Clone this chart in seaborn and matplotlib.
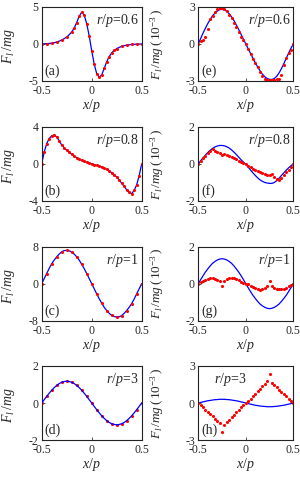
import matplotlib
matplotlib.use("Agg")
import matplotlib.pyplot as plt
import seaborn as sns
import numpy as np

# ---------------- data ----------------
X = [-0.5, -0.475, -0.45, -0.425, -0.4, -0.375, -0.35, -0.325, -0.3, -0.275,
     -0.25, -0.225, -0.2, -0.175, -0.15, -0.125, -0.1, -0.075, -0.05, -0.025,
     0.0, 0.025, 0.05, 0.075, 0.1, 0.125, 0.15, 0.175, 0.2, 0.225,
     0.25, 0.275, 0.3, 0.325, 0.35, 0.375, 0.4, 0.425, 0.45, 0.475, 0.5]

# (a) r/p = 0.6, normal force
A_LINE = [0, 0.02, 0.04, 0.07, 0.11, 0.17, 0.26, 0.38, 0.53, 0.72,
          0.95, 1.25, 1.62, 2.15, 2.9, 3.75, 4.3, 3.9, 2.75, 1.1,
          -0.9, -2.7, -4.0, -4.5, -4.2, -3.3, -2.4, -1.7, -1.2, -0.87,
          -0.63, -0.46, -0.33, -0.23, -0.16, -0.11, -0.07, -0.04, -0.02, -0.01, 0]
# (b) r/p = 0.8
B_LINE = [0, 1.3, 2.2, 2.75, 3.05, 3.12, 2.92, 2.5, 2.05, 1.75,
          1.5, 1.25, 1.04, 0.85, 0.68, 0.52, 0.39, 0.28, 0.18, 0.09,
          0, -0.07, -0.14, -0.22, -0.32, -0.44, -0.57, -0.74, -0.93, -1.16,
          -1.43, -1.74, -2.07, -2.43, -2.79, -3.08, -3.2, -2.85, -2.25, -1.25, 0]
# (c) r/p = 1
C_LINE = [0, 1.1, 2.2, 3.3, 4.3, 5.1, 5.8, 6.4, 6.9, 7.15,
          7.2, 7.1, 6.85, 6.4, 5.8, 5.1, 4.2, 3.25, 2.2, 1.1,
          0, -1.1, -2.2, -3.25, -4.2, -5.1, -5.8, -6.4, -6.85, -7.1,
          -7.2, -7.15, -6.9, -6.4, -5.8, -5.1, -4.3, -3.3, -2.2, -1.1, 0]
# (d) r/p = 3
D_LINE = [0, 0.18, 0.36, 0.53, 0.69, 0.83, 0.95, 1.05, 1.12, 1.16,
          1.18, 1.16, 1.12, 1.05, 0.95, 0.83, 0.69, 0.53, 0.36, 0.18,
          0, -0.18, -0.36, -0.53, -0.69, -0.83, -0.95, -1.05, -1.12, -1.16,
          -1.18, -1.16, -1.12, -1.05, -0.95, -0.83, -0.69, -0.53, -0.36, -0.18, 0]
# (e) r/p = 0.6, x 1e-3
E_LINE = [0, 0.45, 0.88, 1.28, 1.66, 1.99, 2.28, 2.5, 2.67, 2.78,
          2.8, 2.76, 2.64, 2.45, 2.2, 1.9, 1.55, 1.17, 0.78, 0.38,
          0, -0.38, -0.77, -1.15, -1.52, -1.87, -2.18, -2.45, -2.66, -2.8,
          -2.87, -2.88, -2.8, -2.62, -2.35, -2.0, -1.6, -1.17, -0.75, -0.35, 0]
E_DOTS = [0, 0.25, 0.35, 0.6, 1.2, 2.0, 2.3, 2.6, 2.8, 2.9,
          2.9, 2.85, 2.65, 2.35, 2.1, 1.7, 1.4, 1.0, 0.6, 0.3,
          0, -0.4, -0.8, -1.2, -1.55, -1.9, -2.25, -2.6, -2.8, -2.9,
          -2.92, -2.9, -2.9, -2.88, -2.8, -2.5, -1.7, -1.1, -0.7, -0.45, 0]
# (f) r/p = 0.8
F_LINE = [0, 0.17, 0.33, 0.48, 0.62, 0.74, 0.84, 0.92, 0.97, 1.0,
          1.0, 0.98, 0.93, 0.86, 0.76, 0.64, 0.51, 0.37, 0.23, 0.1,
          -0.02, -0.17, -0.33, -0.48, -0.62, -0.75, -0.86, -0.94, -1.0, -1.03,
          -1.05, -1.05, -1.0, -0.9, -0.77, -0.62, -0.48, -0.34, -0.21, -0.1, 0]
F_DOTS = [0, 0.15, 0.3, 0.45, 0.6, 0.72, 0.8, 0.72, 0.62, 0.6,
          0.5, 0.52, 0.5, 0.45, 0.4, 0.32, 0.25, 0.18, 0.1, 0.05,
          -0.02, -0.1, -0.18, -0.25, -0.32, -0.38, -0.45, -0.5, -0.55, -0.58,
          -0.6, -0.55, -0.7, -0.8, -0.85, -0.75, -0.6, -0.45, -0.3, -0.15, 0]
# (g) r/p = 1
G_LINE = [0, 0.22, 0.43, 0.63, 0.8, 0.96, 1.1, 1.2, 1.28, 1.33,
          1.35, 1.33, 1.28, 1.2, 1.1, 0.96, 0.8, 0.63, 0.43, 0.22,
          0, -0.22, -0.43, -0.63, -0.8, -0.96, -1.1, -1.2, -1.28, -1.33,
          -1.35, -1.33, -1.28, -1.2, -1.1, -0.96, -0.8, -0.63, -0.43, -0.22, 0]
G_DOTS = [0, 0.08, 0.15, 0.22, 0.27, 0.3, 0.3, 0.27, 0.22, 0.15,
          -0.12, 0.15, 0.25, 0.3, 0.32, 0.3, 0.25, 0.18, 0.1, 0.04,
          0, -0.04, -0.1, -0.18, -0.25, -0.3, -0.32, -0.3, -0.25, -0.15,
          0.12, -0.15, -0.22, -0.27, -0.3, -0.3, -0.27, -0.22, -0.15, -0.08, 0]
# (h) r/p = 3
H_LINE = [0, 0.05, 0.09, 0.14, 0.18, 0.21, 0.24, 0.27, 0.28, 0.3,
          0.3, 0.3, 0.28, 0.27, 0.24, 0.21, 0.18, 0.14, 0.09, 0.05,
          0, -0.05, -0.09, -0.14, -0.18, -0.21, -0.24, -0.27, -0.28, -0.3,
          -0.3, -0.3, -0.28, -0.27, -0.24, -0.21, -0.18, -0.14, -0.09, -0.05, 0]
H_DOTS = [0, -0.18, -0.36, -0.54, -0.72, -0.9, -1.08, -1.26, -1.45, -1.65,
          -2.35, -1.75, -1.55, -1.35, -1.15, -0.95, -0.75, -0.55, -0.35, -0.18,
          0, 0.18, 0.35, 0.55, 0.75, 0.95, 1.15, 1.35, 1.55, 1.75,
          2.35, 1.65, 1.45, 1.26, 1.08, 0.9, 0.72, 0.54, 0.36, 0.18, 0]

X_TICKS = [-0.5, 0, 0.5]
X_TICKLABELS = ["-0.5", "0", "0.5"]
PANEL_LABELS = ["(a)", "(b)", "(c)", "(d)", "(e)", "(f)", "(g)", "(h)"]
RATIOS = ["0.6", "0.8", "1", "3", "0.6", "0.8", "1", "3"]
Y_LIMITS = [5, 4, 8, 2, 3, 2, 2, 3]

# ---------------- style ----------------
sns.set_style("ticks")
plt.rcParams["font.family"] = ["Liberation Serif", "DejaVu Serif"]
plt.rcParams["mathtext.fontset"] = "custom"
plt.rcParams["mathtext.it"] = "Liberation Serif:italic"
plt.rcParams["mathtext.rm"] = "Liberation Serif"
plt.rcParams["mathtext.bf"] = "Liberation Serif:bold"
plt.rcParams["axes.unicode_minus"] = False

fig = plt.figure(figsize=(3.0, 4.8), dpi=100)

row_bottoms = [0.8313, 0.5813, 0.3319, 0.0833]
h = 0.1542
col_lefts = [0.139, 0.661]
col_widths = [0.3333, 0.3167]

lines = [A_LINE, B_LINE, C_LINE, D_LINE, E_LINE, F_LINE, G_LINE, H_LINE]
dots = [A_LINE, B_LINE, C_LINE, D_LINE, E_DOTS, F_DOTS, G_DOTS, H_DOTS]

for k in range(8):
    col = k // 4
    row = k % 4
    ax = fig.add_axes([col_lefts[col], row_bottoms[row], col_widths[col], h])
    yl = lines[k]
    yd = dots[k]
    if k == 0:
        sel = [i for i in range(41) if i % 2 == 0 or 12 <= i <= 30]
    elif k in (2, 3):
        sel = [i for i in range(41) if i % 2 == 0]
    else:
        sel = list(range(41))
    xd = [X[i] for i in sel]
    ydd = [yd[i] for i in sel]
    line_z = 3 if k == 3 else 2
    sns.lineplot(x=X, y=yl, ax=ax, color="#0000ff", lw=0.9, zorder=line_z)
    sns.scatterplot(x=xd, y=ydd, ax=ax, color="#ff0000", s=5, linewidth=0,
                    zorder=2.5)
    lim = Y_LIMITS[k]
    ax.set_xlim(-0.5, 0.5)
    ax.set_ylim(-lim, lim)
    ax.set_xticks(X_TICKS)
    ax.set_xticklabels(X_TICKLABELS)
    ax.set_yticks([-lim, 0, lim])
    ax.set_yticklabels([str(-lim), "0", str(lim)])
    ax.tick_params(direction="in", length=2.5, width=0.6, labelsize=8.5,
                   color="#333333")
    ax.tick_params(axis="x", pad=3.0)
    ax.tick_params(axis="y", pad=2.5)
    for sp in ax.spines.values():
        sp.set_linewidth(0.8)
        sp.set_color("#222222")
    ax.set_xlabel(r"$x/p$", fontsize=10)
    ax.xaxis.set_label_coords(0.5, -0.22)
    if col == 0:
        ax.set_ylabel(r"$F_l\,/mg$", fontsize=10)
        ax.yaxis.set_label_coords(-0.245, 0.47)
    else:
        ax.set_ylabel(r"$F_l\,/mg\,(\,10^{-3}\,)$", fontsize=9.5)
        ax.yaxis.set_label_coords(-0.34, 0.5)
    ax.text(0.03, 0.04, PANEL_LABELS[k], transform=ax.transAxes,
            fontsize=10, ha="left", va="bottom")
    if k == 7:
        ax.text(0.17, 0.93, r"$r/p$=" + RATIOS[k], transform=ax.transAxes,
                fontsize=10, ha="left", va="top")
    else:
        ax.text(0.97, 0.93, r"$r/p$=" + RATIOS[k], transform=ax.transAxes,
                fontsize=10, ha="right", va="top")

fig.savefig("out.png", dpi=100)
